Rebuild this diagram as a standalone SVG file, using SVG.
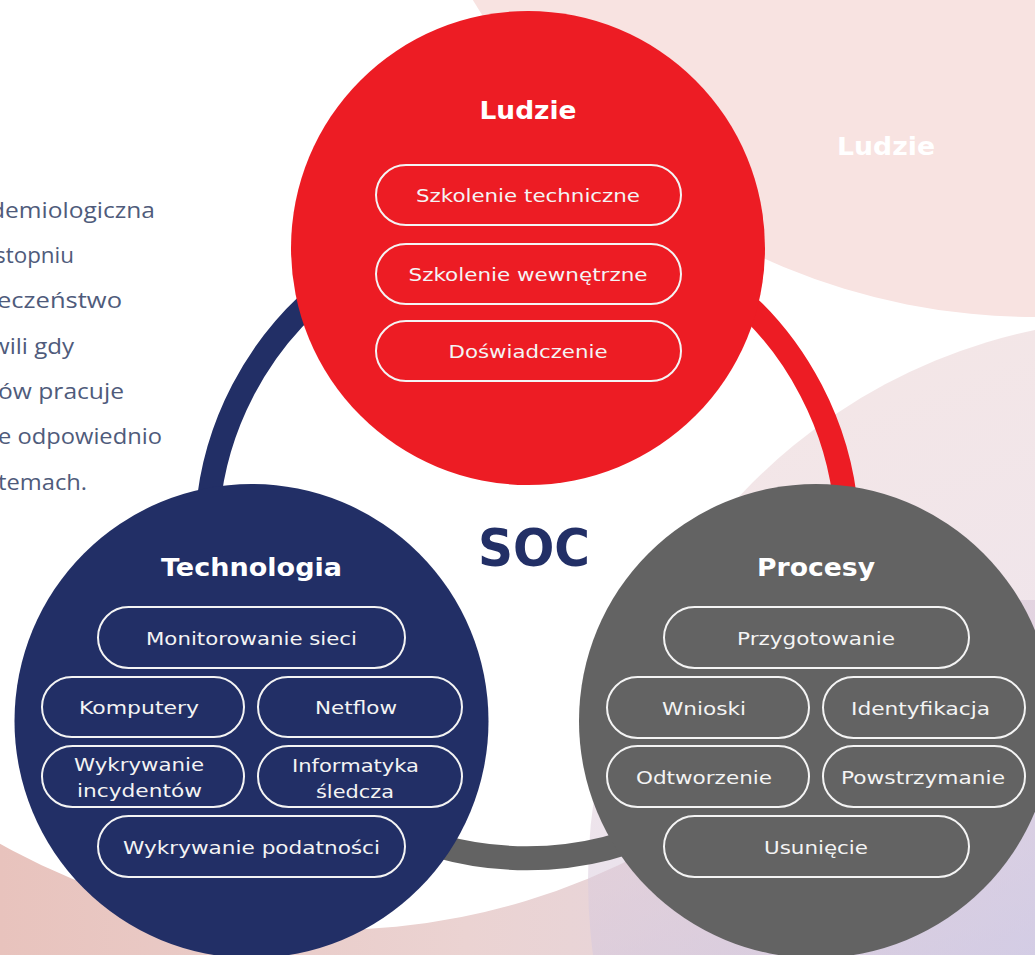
<svg xmlns="http://www.w3.org/2000/svg" width="1035" height="955" viewBox="0 0 1035 955">
  <defs>
    <linearGradient id="bandGrad" gradientUnits="userSpaceOnUse" x1="0" y1="0" x2="1035" y2="0">
      <stop offset="0" stop-color="#e8c3bd"/>
      <stop offset="0.45" stop-color="#ebd3d2"/>
      <stop offset="1" stop-color="#e0d8e8"/>
    </linearGradient>
    <linearGradient id="mistGrad" gradientUnits="userSpaceOnUse" x1="820" y1="330" x2="1035" y2="955">
      <stop offset="0" stop-color="#ebd2d2"/>
      <stop offset="0.5" stop-color="#e4d0da"/>
      <stop offset="1" stop-color="#c9c3e2"/>
    </linearGradient>
    <style>
      .pill { fill: none; stroke: #f4f4f4; stroke-width: 2; }
      .item { font-family: "DejaVu Sans", "Open Sans", sans-serif; font-size: 18px; fill: #f4f4f4; text-anchor: middle; }
      .title { font-family: "DejaVu Sans", "Open Sans", sans-serif; font-size: 25px; font-weight: 700; fill: #ffffff; text-anchor: middle; }
      .side { font-family: "Open Sans", "Noto Sans", sans-serif; font-size: 21px; fill: #4f5b7b; text-anchor: end; }
      .ring { fill: none; stroke-width: 24; }
    </style>
  </defs>

  <!-- backdrop -->
  <rect x="0" y="0" width="1035" height="955" fill="#ffffff"/>
  <rect x="0" y="600" width="1035" height="355" fill="url(#bandGrad)"/>
  <circle cx="330" cy="256" r="674" fill="#ffffff"/>
  <circle cx="1150" cy="880" r="562" fill="url(#mistGrad)" opacity="0.55"/>
  <circle cx="1035" cy="-340" r="657" fill="#f8e3e1"/>
  <text class="title" x="886" y="155" textLength="98" lengthAdjust="spacingAndGlyphs">Ludzie</text>

  <!-- side paragraph -->
  <g id="side-text">
    <text class="side" x="155" y="218" textLength="165" lengthAdjust="spacingAndGlyphs">demiologiczna</text>
    <text class="side" x="74" y="263" textLength="79" lengthAdjust="spacingAndGlyphs">stopniu</text>
    <text class="side" x="122" y="308" textLength="125" lengthAdjust="spacingAndGlyphs">eczeństwo</text>
    <text class="side" x="74" y="354" textLength="83" lengthAdjust="spacingAndGlyphs">wili gdy</text>
    <text class="side" x="124" y="399" textLength="126" lengthAdjust="spacingAndGlyphs">ów pracuje</text>
    <text class="side" x="162" y="444" textLength="164" lengthAdjust="spacingAndGlyphs">e odpowiednio</text>
    <text class="side" x="87" y="490" textLength="89" lengthAdjust="spacingAndGlyphs">temach.</text>
  </g>

  <!-- connecting ring -->
  <g id="connectors">
    <path class="ring" stroke="#222f66" d="M527,218 A320,320 0 0 0 265,722"/>
    <path class="ring" stroke="#ed1c24" d="M527,218 A320,320 0 0 1 789,722"/>
    <path class="ring" stroke="#636363" d="M265,722 A320,320 0 0 0 789,722"/>
  </g>

  <!-- centre label -->
  <text x="534" y="566" font-family="'DejaVu Sans', 'Open Sans', sans-serif" font-size="51" font-weight="700" fill="#222f66" text-anchor="middle" textLength="112" lengthAdjust="spacingAndGlyphs">SOC</text>

  <!-- Ludzie -->
  <g id="node-ludzie">
    <circle cx="528" cy="248" r="237" fill="#ed1c24"/>
    <text class="title" x="528" y="119" textLength="97" lengthAdjust="spacingAndGlyphs">Ludzie</text>
    <rect class="pill" x="376" y="165" width="305" height="60" rx="30"/>
    <text class="item" x="528" y="202" textLength="224" lengthAdjust="spacingAndGlyphs">Szkolenie techniczne</text>
    <rect class="pill" x="376" y="244" width="305" height="60" rx="30"/>
    <text class="item" x="528" y="281" textLength="239" lengthAdjust="spacingAndGlyphs">Szkolenie wewnętrzne</text>
    <rect class="pill" x="376" y="321" width="305" height="60" rx="30"/>
    <text class="item" x="528" y="358" textLength="159" lengthAdjust="spacingAndGlyphs">Doświadczenie</text>
  </g>

  <!-- Technologia -->
  <g id="node-technologia">
    <circle cx="251.5" cy="721" r="237" fill="#222f66"/>
    <text class="title" x="251.5" y="576" textLength="181" lengthAdjust="spacingAndGlyphs">Technologia</text>
    <rect class="pill" x="98" y="607" width="307" height="61" rx="30.5"/>
    <text class="item" x="251.5" y="645" textLength="211" lengthAdjust="spacingAndGlyphs">Monitorowanie sieci</text>
    <rect class="pill" x="42" y="677" width="202" height="60" rx="30"/>
    <text class="item" x="139" y="714" textLength="120" lengthAdjust="spacingAndGlyphs">Komputery</text>
    <rect class="pill" x="258" y="677" width="204" height="60" rx="30"/>
    <text class="item" x="356" y="714" textLength="82" lengthAdjust="spacingAndGlyphs">Netflow</text>
    <rect class="pill" x="42" y="746" width="202" height="61" rx="30.5"/>
    <text class="item" x="139" y="771" textLength="130" lengthAdjust="spacingAndGlyphs">Wykrywanie</text>
    <text class="item" x="139.5" y="797" textLength="125" lengthAdjust="spacingAndGlyphs">incydentów</text>
    <rect class="pill" x="258" y="746" width="204" height="61" rx="30.5"/>
    <text class="item" x="355.5" y="772" textLength="127" lengthAdjust="spacingAndGlyphs">Informatyka</text>
    <text class="item" x="355" y="798" textLength="78" lengthAdjust="spacingAndGlyphs">śledcza</text>
    <rect class="pill" x="98" y="816" width="307" height="61" rx="30.5"/>
    <text class="item" x="251.5" y="854" textLength="257" lengthAdjust="spacingAndGlyphs">Wykrywanie podatności</text>
  </g>

  <!-- Procesy -->
  <g id="node-procesy">
    <circle cx="816" cy="721" r="237" fill="#636363"/>
    <text class="title" x="816" y="576" textLength="118" lengthAdjust="spacingAndGlyphs">Procesy</text>
    <rect class="pill" x="664" y="607" width="305" height="61" rx="30.5"/>
    <text class="item" x="816" y="645" textLength="158" lengthAdjust="spacingAndGlyphs">Przygotowanie</text>
    <rect class="pill" x="607" y="677" width="202" height="61" rx="30.5"/>
    <text class="item" x="704" y="715" textLength="84" lengthAdjust="spacingAndGlyphs">Wnioski</text>
    <rect class="pill" x="823" y="677" width="202" height="61" rx="30.5"/>
    <text class="item" x="920.5" y="715" textLength="139" lengthAdjust="spacingAndGlyphs">Identyfikacja</text>
    <rect class="pill" x="607" y="746" width="202" height="61" rx="30.5"/>
    <text class="item" x="704" y="784" textLength="136" lengthAdjust="spacingAndGlyphs">Odtworzenie</text>
    <rect class="pill" x="823" y="746" width="202" height="61" rx="30.5"/>
    <text class="item" x="923" y="784" textLength="164" lengthAdjust="spacingAndGlyphs">Powstrzymanie</text>
    <rect class="pill" x="664" y="816" width="305" height="61" rx="30.5"/>
    <text class="item" x="816" y="854" textLength="104" lengthAdjust="spacingAndGlyphs">Usunięcie</text>
  </g>
</svg>
